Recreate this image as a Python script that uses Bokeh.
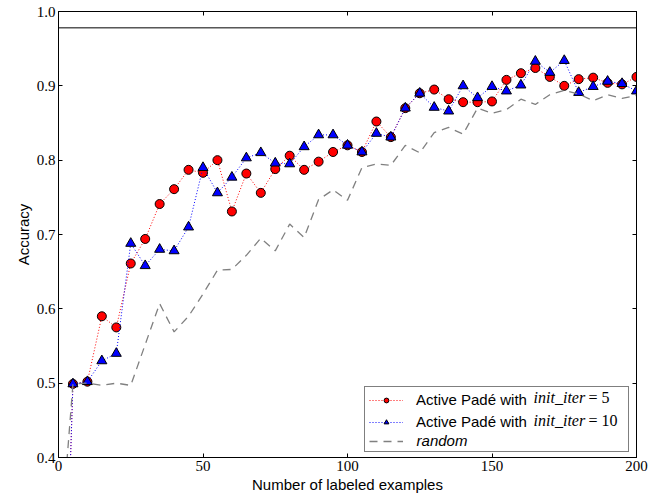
from bokeh.plotting import figure
from bokeh.models import (Range1d, LinearAxis, FixedTicker, Span, Legend,
                          LegendItem, CustomJSTickFormatter)
from bokeh.core.properties import value
from bokeh.embed import file_html
from bokeh.resources import INLINE

# ---------------- data ----------------
x_vals = [1, 5, 10, 15, 20, 25, 30, 35, 40, 45, 50, 55, 60, 65, 70, 75, 80, 85, 90, 95, 100,
          105, 110, 115, 120, 125, 130, 135, 140, 145, 150, 155, 160, 165, 170, 175,
          180, 185, 190, 195, 200]

pade_5 = [0.02, 0.499, 0.502, 0.590, 0.575, 0.661, 0.694, 0.741, 0.761, 0.787, 0.783,
          0.800, 0.731, 0.782, 0.756, 0.788, 0.806, 0.787, 0.798, 0.811, 0.820,
          0.811, 0.852, 0.831, 0.870, 0.890, 0.895, 0.882, 0.878, 0.878, 0.879,
          0.908, 0.917, 0.924, 0.912, 0.900, 0.909, 0.911, 0.904, 0.902, 0.912]

pade_10 = [0.02, 0.499, 0.502, 0.530, 0.540, 0.688, 0.658, 0.680, 0.678, 0.710, 0.790,
           0.756, 0.777, 0.803, 0.810, 0.796, 0.795, 0.818, 0.834, 0.834, 0.820,
           0.811, 0.836, 0.831, 0.870, 0.890, 0.871, 0.866, 0.900, 0.884, 0.899,
           0.893, 0.901, 0.933, 0.918, 0.934, 0.891, 0.899, 0.906, 0.903, 0.893]

random_acc = [0.30, 0.499, 0.500, 0.497, 0.500, 0.497, 0.552, 0.607, 0.569, 0.590, 0.620,
              0.652, 0.653, 0.672, 0.695, 0.678, 0.714, 0.696, 0.747, 0.760, 0.746,
              0.790, 0.795, 0.793, 0.820, 0.810, 0.837, 0.844, 0.835, 0.870, 0.863,
              0.868, 0.882, 0.875, 0.888, 0.894, 0.889, 0.880, 0.888, 0.883, 0.887]

hline_y = 0.978

x_ticks = [0, 50, 100, 150, 200]
y_ticks = [0.4, 0.5, 0.6, 0.7, 0.8, 0.9, 1.0]

legend_prefix = "Active Padé with"
legend_math = ["init_iter", "init_iter"]
legend_eq = ["= 5", "= 10"]
legend_random = ["random"]

SERIF = "'Liberation Serif', serif"
SANS = "Liberation Sans"

# ---------------- figure ----------------
p = figure(width=662, height=495, output_backend="svg", toolbar_location=None,
           x_range=Range1d(0, 200), y_range=Range1d(0.4, 1.0),
           min_border_left=58, min_border_right=26, min_border_top=11,
           min_border_bottom=37)
p.background_fill_color = "white"
p.border_fill_color = "white"
p.outline_line_color = "black"
p.outline_line_width = 1
p.xgrid.visible = False
p.ygrid.visible = False


def style_axis(ax, ticks, labels=True, fmt=None):
    ax.ticker = FixedTicker(ticks=ticks)
    ax.major_tick_in = 4
    ax.major_tick_out = 0
    ax.minor_tick_in = 0
    ax.minor_tick_out = 0
    ax.axis_line_color = "black"
    ax.major_tick_line_color = "black"
    if labels:
        ax.formatter = CustomJSTickFormatter(code=fmt)
        ax.major_label_text_font = SERIF
        ax.major_label_text_font_size = "15px"
        ax.major_label_text_color = "black"
        ax.major_label_standoff = 3
    else:
        ax.formatter = CustomJSTickFormatter(code="return ''")
        ax.major_label_text_font_size = "0px"
        ax.major_label_standoff = 0


style_axis(p.xaxis[0], x_ticks, True, "return tick.toFixed(0)")
style_axis(p.yaxis[0], y_ticks, True, "return tick.toFixed(1)")
p.xaxis[0].axis_label = "Number of labeled examples"
p.yaxis[0].axis_label = "Accuracy"
for ax in (p.xaxis[0], p.yaxis[0]):
    ax.axis_label_text_font = SANS
    ax.axis_label_text_font_size = "15px"
    ax.axis_label_text_font_style = "normal"
    ax.axis_label_text_color = "black"
p.xaxis[0].axis_label_standoff = 2
p.yaxis[0].axis_label_standoff = 2

top_ax = LinearAxis()
style_axis(top_ax, x_ticks, False)
p.add_layout(top_ax, "above")
right_ax = LinearAxis()
style_axis(right_ax, y_ticks, False)
p.add_layout(right_ax, "right")

# ---------------- glyphs ----------------
r5_line = p.line(x_vals, pade_5, line_color="red", line_width=1, line_dash="1 2")
r5_pts = p.scatter(x_vals, pade_5, marker="circle", size=9, fill_color="red",
                   line_color="black", line_width=1)
r10_line = p.line(x_vals, pade_10, line_color="blue", line_width=1, line_dash="1 2")
r10_pts = p.scatter(x_vals, pade_10, marker="triangle", size=10, fill_color="blue",
                    line_color="black", line_width=1)
rr_line = p.line(x_vals, random_acc, line_color="#808080", line_width=1.3,
                 line_dash="8 6")

p.add_layout(Span(location=hline_y, dimension="width", line_color="black",
                  line_width=1))

# ---------------- legend ----------------
legend = Legend(items=[
    LegendItem(label=legend_prefix, renderers=[r5_line, r5_pts]),
    LegendItem(label=legend_prefix, renderers=[r10_line, r10_pts]),
    LegendItem(label=" ", renderers=[rr_line]),
], location=(306, 5), padding=4, spacing=5, glyph_width=34, glyph_height=12,
    label_height=12, label_width=208, label_standoff=13, margin=0,
    border_line_color="black", border_line_width=1, background_fill_color="white",
    background_fill_alpha=0.0, label_text_font=SANS, label_text_font_size="15px",
    label_text_color="black")
p.add_layout(legend)

# rich-text parts of the legend labels (positions in data units)
row_y = [0.4805, 0.4497]
rand_y = [0.4228]
math_x = [164.4, 164.4]
eq_x = [183.4, 183.4]
rand_x = [123.9]
p.text(x=math_x, y=row_y, text=legend_math, text_font=value(SERIF),
       text_font_style="italic", text_font_size="16px", text_baseline="middle",
       text_color="black", level="overlay")
p.text(x=eq_x, y=row_y, text=legend_eq, text_font=value(SERIF),
       text_font_size="16px", text_baseline="middle", text_color="black",
       level="overlay")
p.text(x=rand_x, y=rand_y, text=legend_random, text_font=value(SANS),
       text_font_style="italic", text_font_size="15px", text_baseline="middle",
       text_color="black", level="overlay")

open("out.html", "w").write(file_html(p, INLINE))
